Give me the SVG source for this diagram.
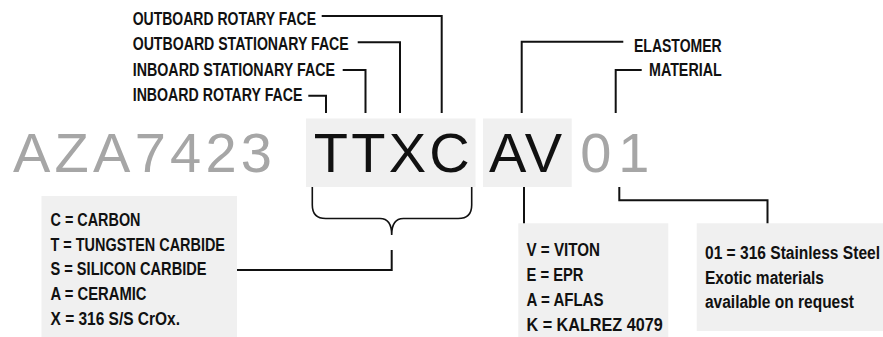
<svg xmlns="http://www.w3.org/2000/svg" width="883" height="337" viewBox="0 0 883 337">
<style>
.bg{fill:#f0f0f0}
.lbl{font-family:"Liberation Sans",Arial,sans-serif;font-weight:bold;font-size:17.5px;fill:#111}
.big{font-family:"Liberation Sans",Arial,sans-serif;font-size:56px}
.gray{fill:#a6a6a6}
.dark{fill:#111}
.con{fill:none;stroke:#111;stroke-width:2}
.brace{fill:none;stroke:#111;stroke-width:1.6}
</style>
<rect width="883" height="337" fill="#fff"/>
<g id="code-prefix">
<text class="big gray" x="13" y="172" textLength="259" lengthAdjust="spacing">AZA7423</text>
</g>
<g id="code-faces">
<rect class="bg" x="306" y="118.5" width="169.5" height="68.5"/>
<text class="big dark" x="313.7" y="172" textLength="156" lengthAdjust="spacing">TTXC</text>
</g>
<g id="code-elastomer">
<rect class="bg" x="483" y="118.5" width="88.7" height="68.5"/>
<text class="big dark" x="489" y="172" textLength="73" lengthAdjust="spacing">AV</text>
</g>
<g id="code-material">
<text class="big gray" x="580.3" y="172" textLength="69" lengthAdjust="spacing">01</text>
</g>
<g id="label-outboard-rotary"><text class="lbl" x="132.7" y="25" textLength="183.3" lengthAdjust="spacingAndGlyphs">OUTBOARD ROTARY FACE</text></g>
<g id="label-outboard-stationary"><text class="lbl" x="132.7" y="50" textLength="216" lengthAdjust="spacingAndGlyphs">OUTBOARD STATIONARY FACE</text></g>
<g id="label-inboard-stationary"><text class="lbl" x="132.7" y="76" textLength="202.3" lengthAdjust="spacingAndGlyphs">INBOARD STATIONARY FACE</text></g>
<g id="label-inboard-rotary"><text class="lbl" x="132.7" y="101" textLength="169.8" lengthAdjust="spacingAndGlyphs">INBOARD ROTARY FACE</text></g>
<g id="label-elastomer"><text class="lbl" x="634" y="51.5" textLength="87.7" lengthAdjust="spacingAndGlyphs">ELASTOMER</text></g>
<g id="label-material"><text class="lbl" x="649" y="76" textLength="72.7" lengthAdjust="spacingAndGlyphs">MATERIAL</text></g>
<g id="box-faces">
<rect class="bg" x="41.5" y="196" width="195.5" height="141"/>
<text class="lbl" x="50.5" y="226" textLength="90" lengthAdjust="spacingAndGlyphs">C = CARBON</text>
<text class="lbl" x="50.5" y="250.7" textLength="174.5" lengthAdjust="spacingAndGlyphs">T = TUNGSTEN CARBIDE</text>
<text class="lbl" x="50.5" y="275.3" textLength="156" lengthAdjust="spacingAndGlyphs">S = SILICON CARBIDE</text>
<text class="lbl" x="50.5" y="300" textLength="96" lengthAdjust="spacingAndGlyphs">A = CERAMIC</text>
<text class="lbl" x="50.5" y="325" textLength="129.5" lengthAdjust="spacingAndGlyphs">X = 316 S/S CrOx.</text>
</g>
<g id="box-elastomer">
<rect class="bg" x="518.3" y="223.3" width="150" height="113.7"/>
<text class="lbl" x="526.5" y="256" textLength="73.5" lengthAdjust="spacingAndGlyphs">V = VITON</text>
<text class="lbl" x="526.5" y="281" textLength="57" lengthAdjust="spacingAndGlyphs">E = EPR</text>
<text class="lbl" x="526.5" y="306" textLength="77" lengthAdjust="spacingAndGlyphs">A = AFLAS</text>
<text class="lbl" x="526.5" y="331" textLength="136.2" lengthAdjust="spacingAndGlyphs">K = KALREZ 4079</text>
</g>
<g id="box-material">
<rect class="bg" x="696.7" y="223.3" width="186.3" height="107.7"/>
<text class="lbl" x="705" y="259" textLength="175" lengthAdjust="spacingAndGlyphs">01 = 316 Stainless Steel</text>
<text class="lbl" x="705" y="283.5" textLength="119" lengthAdjust="spacingAndGlyphs">Exotic materials</text>
<text class="lbl" x="705" y="308" textLength="149" lengthAdjust="spacingAndGlyphs">available on request</text>
</g>
<g id="connectors">
<path class="con" d="M321.7 16H441.7V113"/>
<path class="con" d="M357.7 42.3H400V113"/>
<path class="con" d="M342.7 70H365.5V113"/>
<path class="con" d="M308.3 95.7H326V113"/>
<path class="con" d="M623.3 41.7H521.7V113"/>
<path class="con" d="M641.7 70H615.7V113"/>
<path class="brace" d="M312.3 187V205Q312.3 218.5 325.8 218.5H380C387.5 218.5 391.7 224 391.7 235C391.7 224 395.9 218.5 403.4 218.5H458.2Q471.7 218.5 471.7 205V187"/>
<path class="con" d="M391.7 250V270H237"/>
<path class="con" d="M524 187V223.3"/>
<path class="con" d="M619.3 187V200.3H767.5V223.3"/>
</g>
</svg>
